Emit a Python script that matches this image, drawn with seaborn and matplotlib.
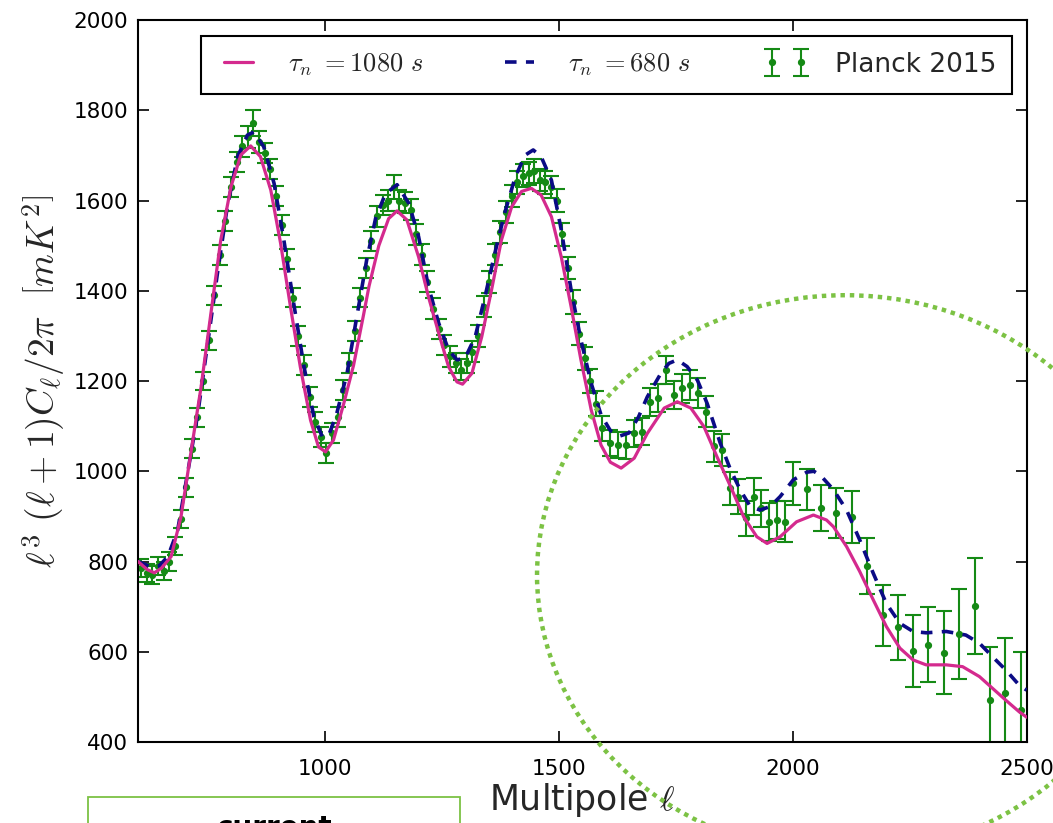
import numpy as np
import pandas as pd
import matplotlib
matplotlib.use("Agg")
import matplotlib.pyplot as plt
import seaborn as sns
from matplotlib.patches import Ellipse, Rectangle
from matplotlib.lines import Line2D

# ---------------- data ----------------
# model curve, tau_n = 1080 s
ell_1080 = [600, 620, 635, 650, 671, 692, 713, 735, 756, 777, 799, 820, 841, 862, 884, 905, 926, 947,
            969, 986, 1001, 1018, 1040, 1061, 1082, 1094, 1115, 1136, 1154, 1175, 1200, 1221, 1243,
            1264, 1282, 1294, 1314, 1335, 1356, 1377, 1399, 1420, 1441, 1462, 1484, 1505, 1526, 1547,
            1569, 1590, 1610, 1633, 1661, 1689, 1725, 1753, 1782, 1810, 1838, 1867, 1895, 1923, 1945,
            1973, 2008, 2044, 2072, 2087, 2115, 2143, 2172, 2200, 2229, 2257, 2285, 2328, 2363, 2399,
            2427, 2455, 2484, 2500]
cl_1080 = [800, 782, 775, 785, 811, 899, 1040, 1187, 1350, 1512, 1631, 1701, 1721, 1697, 1623, 1505, 1365, 1232,
           1113, 1054, 1043, 1069, 1150, 1235, 1345, 1410, 1500, 1560, 1577, 1557, 1475, 1387, 1306,
           1232, 1198, 1193, 1217, 1298, 1402, 1512, 1586, 1620, 1627, 1612, 1564, 1475, 1365, 1247,
           1136, 1058, 1020, 1007, 1029, 1084, 1140, 1154, 1140, 1099, 1032, 966, 899, 855, 840,
           855, 888, 903, 892, 877, 833, 778, 715, 656, 608, 582, 571, 571, 567, 545,
           519, 493, 467, 455]

# model curve, tau_n = 680 s
ell_680 = [600, 628, 645, 664, 685, 706, 728, 749, 770, 791, 813, 834, 848, 869, 891, 912, 933, 955, 976,
           994, 1008, 1025, 1047, 1068, 1089, 1108, 1129, 1154, 1179, 1200, 1221, 1243, 1264, 1282, 1299,
           1321, 1342, 1363, 1384, 1406, 1427, 1445, 1462, 1484, 1505, 1526, 1547, 1569, 1590, 1610,
           1630, 1650, 1670, 1689, 1718, 1735, 1753, 1774, 1796, 1817, 1845, 1867, 1888, 1909, 1930,
           1952, 1973, 2001, 2030, 2045, 2060, 2087, 2115, 2143, 2172, 2200, 2229, 2257, 2285, 2328,
           2370, 2399, 2427, 2455, 2484, 2500]
cl_680 = [800, 788, 790, 811, 870, 995, 1128, 1283, 1439, 1586, 1697, 1745, 1752, 1719, 1638, 1512, 1372, 1232, 1121,
          1077, 1080, 1128, 1217, 1343, 1468, 1560, 1615, 1635, 1594, 1520, 1409, 1328, 1269, 1247, 1250,
          1298, 1387, 1483, 1572, 1650, 1700, 1712, 1697, 1645, 1535, 1402, 1291, 1195, 1125, 1090,
          1078, 1085, 1120, 1165, 1217, 1239, 1247, 1232, 1202, 1150, 1062, 1003, 958, 922, 914,
          922, 944, 981, 998, 1000, 990, 959, 914, 848, 774, 707, 663, 645, 642, 645,
          637, 619, 589, 560, 526, 515]

# Planck 2015 binned points
ell_planck = [607, 619, 631, 643, 655, 667, 679, 691, 703, 715, 727, 739, 751, 763, 775, 787, 799, 811,
              823, 835, 847, 859, 871, 883, 895, 907, 919, 931, 943, 955, 967, 979, 991, 1003, 1015,
              1027, 1039, 1051, 1063, 1075, 1087, 1099, 1111, 1123, 1135, 1147, 1159, 1171, 1183, 1195,
              1207, 1219, 1231, 1243, 1255, 1267, 1279, 1291, 1303, 1315, 1327, 1339, 1351, 1363, 1375,
              1387, 1399, 1411, 1423, 1435, 1447, 1459, 1471, 1483, 1495, 1507, 1519, 1531, 1543, 1555,
              1567, 1579,
              1593, 1610, 1627, 1644, 1661, 1678, 1695, 1712, 1729, 1746, 1763, 1780, 1797, 1814, 1831,
              1848, 1865, 1882, 1899, 1916, 1933, 1950, 1967, 1984, 2001,
              2030, 2060, 2092, 2126, 2158, 2192, 2224, 2257, 2290, 2323, 2356, 2389, 2421, 2454, 2487]
cl_planck = [785, 775, 770, 790, 780, 800, 835, 895, 965, 1050, 1120, 1200, 1290, 1390, 1480, 1555, 1630, 1685,
             1720, 1740, 1772, 1730, 1705, 1670, 1610, 1545, 1470, 1385, 1300, 1235, 1165, 1110, 1075, 1040, 1085,
             1120, 1180, 1240, 1310, 1385, 1450, 1510, 1565, 1590, 1600, 1630, 1600, 1595, 1580, 1525,
             1480, 1420, 1360, 1315, 1280, 1255, 1240, 1225, 1240, 1265, 1300, 1365, 1420, 1480, 1530,
             1575, 1610, 1640, 1655, 1660, 1665, 1645, 1640, 1630, 1600, 1525, 1450, 1375, 1305, 1250,
             1200, 1150,
             1095, 1062, 1058, 1058, 1084, 1088, 1154, 1162, 1224, 1169, 1184, 1191, 1173, 1132, 1055,
             1047, 962, 944, 896, 944, 918, 888, 892, 888, 973,
             960, 919, 907, 898, 790, 681, 654, 602, 616, 598, 639, 701, 493, 509, 470]
err_planck = [20, 20, 20, 20, 20, 20, 20, 20, 21, 21, 21, 21, 21, 21, 22, 22, 22, 22,
              23, 24, 28, 24, 23, 22, 22, 22, 22, 22, 22, 22, 22, 22, 22, 22, 22,
              22, 22, 22, 22, 22, 22, 22, 23, 23, 23, 27, 23, 23, 23, 23,
              23, 23, 23, 23, 23, 23, 23, 23, 23, 23, 24, 24, 24, 24, 24,
              24, 24, 25, 25, 25, 26, 25, 25, 25, 25, 25, 25, 26, 26, 26,
              27, 27,
              28, 29, 29, 30, 30, 30, 31, 31, 31, 32, 32, 33, 33, 34, 35,
              36, 37, 38, 39, 40, 41, 42, 43, 45, 47,
              46, 51, 56, 58, 63, 68, 72, 79, 84, 92, 99, 107, 118, 121, 130]

x_ticks = [1000, 1500, 2000, 2500]
y_ticks = [400, 600, 800, 1000, 1200, 1400, 1600, 1800, 2000]
label_1080 = r"$\tau_n\ =1080\ s$"
label_680 = r"$\tau_n\ =680\ s$"
label_planck = "Planck 2015"

df_1080 = pd.DataFrame({"ell": ell_1080, "cl": cl_1080})
df_680 = pd.DataFrame({"ell": ell_680, "cl": cl_680})
df_pl = pd.DataFrame({"ell": ell_planck, "cl": cl_planck, "err": err_planck})

# ---------------- style ----------------
sns.set_style("ticks")
plt.rcParams["font.family"] = ["DejaVu Sans"]
plt.rcParams["mathtext.fontset"] = "cm"

PINK = "#d42a8e"
NAVY = "#0b0b85"
GREEN = "#158a15"
LGREEN = "#7cc244"

fig = plt.figure(figsize=(10.53, 8.23), dpi=100)
ax = fig.add_axes([0.131, 0.0984, 0.844, 0.8773])

eb = ax.errorbar(df_pl["ell"], df_pl["cl"], yerr=df_pl["err"], fmt="o", color=GREEN,
                 ms=4.2, lw=1.5, capsize=5.5, capthick=1.5, zorder=2)
sns.lineplot(data=df_680, x="ell", y="cl", ax=ax, color=NAVY, lw=2.6, estimator=None,
             sort=False, linestyle=(0, (3.2, 2.6)), zorder=3, legend=False)
sns.lineplot(data=df_1080, x="ell", y="cl", ax=ax, color=PINK, lw=2.3, estimator=None,
             sort=False, zorder=4, legend=False)

ax.set_xlim(600, 2500)
ax.set_ylim(400, 2000)
ax.set_xticks(x_ticks)
ax.set_yticks(y_ticks)
ax.tick_params(direction="in", length=8, width=1.2, top=True, right=True,
               labelsize=15.5, colors="black")
ax.tick_params(axis="x", pad=12)
ax.tick_params(axis="y", pad=7)
for s in ax.spines.values():
    s.set_linewidth(1.5)
    s.set_color("black")

ax.set_xlabel(r"Multipole $\ell$", fontsize=25, labelpad=2)
ax.set_ylabel(r"$\ell^3\ (\ell+1)C_\ell/2\pi\ \ \left[mK^2\right]$", fontsize=27, labelpad=5)

h1 = Line2D([], [], color=PINK, lw=2.3)
h2 = Line2D([], [], color=NAVY, lw=2.6, linestyle=(0, (3.2, 2.6)))
leg = ax.legend([h1, h2, eb], [label_1080, label_680, label_planck], ncol=3, numpoints=2,
                loc="upper right", bbox_to_anchor=(0.984, 0.978), borderaxespad=0, fontsize=19,
                frameon=True, fancybox=False, edgecolor="black", framealpha=1,
                handlelength=1.7, handletextpad=1.0, columnspacing=2.8, borderpad=0.6)
leg.get_frame().set_linewidth(1.5)

# decorative dotted ellipse and the partial box at the bottom
ell_patch = Ellipse((0.8025, 0.3013), 0.585, 0.680, transform=fig.transFigure, fill=False,
                    edgecolor=LGREEN, lw=3.2, linestyle=(0, (1, 1.1)), clip_on=False, zorder=10)
fig.add_artist(ell_patch)
box = Rectangle((88 / 1053, -0.02), (460 - 88) / 1053, 0.02 + (823 - 797) / 823,
                transform=fig.transFigure, fill=False, edgecolor=LGREEN, lw=1.3, clip_on=False)
fig.add_artist(box)
fig.text(275 / 1053, 1 - 836 / 823, "current", fontsize=20, fontweight="bold",
         ha="center", va="baseline", color="black")

fig.savefig("out.png", dpi=100)
